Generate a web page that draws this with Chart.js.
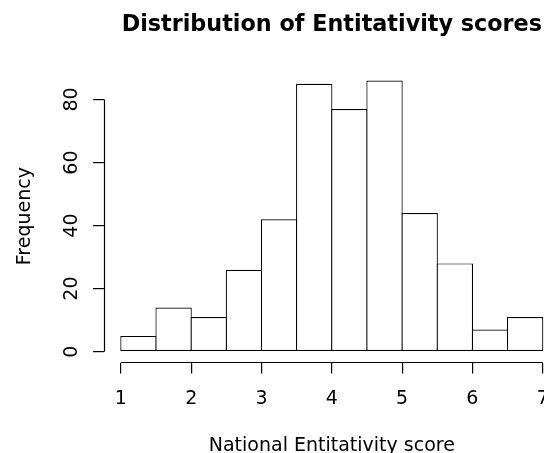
<!DOCTYPE html>
<html>
<head>
<meta charset="utf-8">
<script src="https://cdn.jsdelivr.net/npm/chart.js@4/dist/chart.umd.min.js"></script>
<style>
  html, body { margin: 0; padding: 0; background: #ffffff; overflow: hidden; }
  #wrap { width: 544px; height: 453px; overflow: hidden; }
  canvas { display: block; }
</style>
</head>
<body>
<div id="wrap"><canvas id="hist" width="600" height="453"></canvas></div>
<script>
// Histogram bins (width 0.5) by midpoint, with their counts
const binMidpoints = [1.25, 1.75, 2.25, 2.75, 3.25, 3.75, 4.25, 4.75, 5.25, 5.75, 6.25, 6.75];
const frequencies  = [5, 14, 11, 26, 42, 85, 77, 86, 44, 28, 7, 11];

// Axis tick labels
const xTickValues = [1, 2, 3, 4, 5, 6, 7];
const yTickValues = [0, 20, 40, 60, 80];

const chartTitle = 'Distribution of Entitativity scores';
const xAxisTitle = 'National Entitativity score';
const yAxisTitle = 'Frequency';

const FONT = "'DejaVu Sans', 'Liberation Sans', sans-serif";
const LINE_W = 1.2;

// Draws base-graphics style axis lines spanning only the first to last tick
const axisLinePlugin = {
  id: 'axisLines',
  afterDraw(chart) {
    const { ctx, chartArea, scales } = chart;
    const xs = scales.x, ys = scales.y;
    ctx.save();
    ctx.strokeStyle = '#000000';
    ctx.lineWidth = LINE_W;
    ctx.lineCap = 'butt';
    ctx.beginPath();
    const xLine = Math.round(chartArea.left) + 0.5;
    ctx.moveTo(xLine, ys.getPixelForValue(yTickValues[0]));
    ctx.lineTo(xLine, ys.getPixelForValue(yTickValues[yTickValues.length - 1]));
    const yLine = Math.floor(chartArea.bottom) + 0.5;
    ctx.moveTo(xs.getPixelForValue(xTickValues[0]), yLine);
    ctx.lineTo(xs.getPixelForValue(xTickValues[xTickValues.length - 1]), yLine);
    ctx.stroke();
    ctx.restore();
  }
};

new Chart(document.getElementById('hist'), {
  type: 'bar',
  data: {
    datasets: [{
      data: binMidpoints.map((x, i) => ({ x: x, y: frequencies[i] })),
      backgroundColor: '#ffffff',
      borderColor: '#000000',
      borderWidth: LINE_W,
      borderSkipped: false,
      barPercentage: 1.034,
      categoryPercentage: 1
    }]
  },
  options: {
    responsive: false,
    animation: false,
    events: [],
    layout: { padding: { left: 0, top: 0, bottom: 0, right: 40.4 } },
    plugins: {
      legend: { display: false },
      tooltip: { enabled: false },
      title: {
        display: true,
        text: chartTitle,
        fullSize: false,
        color: '#000000',
        font: { family: FONT, size: 22.3, weight: 'bold', lineHeight: 1.2 },
        padding: { top: 11.5, bottom: 31.5 }
      }
    },
    scales: {
      x: {
        type: 'linear',
        position: 'bottom',
        min: 0.76,
        max: 7.24,
        offset: false,
        bounds: 'data',
        afterBuildTicks: (scale) => { scale.ticks = xTickValues.map(v => ({ value: v })); },
        afterFit: (scale) => { scale.height = 90.5; },
        border: { display: false },
        grid: {
          offset: false,
          drawOnChartArea: false,
          drawTicks: true,
          tickLength: 11,
          color: '#000000',
          lineWidth: LINE_W
        },
        ticks: {
          autoSkip: false,
          maxRotation: 0,
          minRotation: 0,
          padding: 14,
          color: '#000000',
          font: { family: FONT, size: 19 }
        },
        title: {
          display: true,
          text: xAxisTitle,
          color: '#000000',
          font: { family: FONT, size: 19, lineHeight: 0.6 },
          padding: { top: 0, bottom: 1.5 }
        }
      },
      y: {
        type: 'linear',
        position: 'left',
        min: -3.44,
        max: 89.44,
        bounds: 'data',
        afterBuildTicks: (scale) => { scale.ticks = yTickValues.map(v => ({ value: v })); },
        afterFit: (scale) => { scale.width = 104; },
        border: { display: false },
        grid: {
          drawOnChartArea: false,
          drawTicks: true,
          tickLength: 11,
          color: '#000000',
          lineWidth: LINE_W
        },
        ticks: {
          autoSkip: false,
          minRotation: 90,
          maxRotation: 90,
          crossAlign: 'center',
          padding: 9.3,
          color: '#000000',
          font: { family: FONT, size: 19 }
        },
        title: {
          display: true,
          text: yAxisTitle,
          color: '#000000',
          font: { family: FONT, size: 19, lineHeight: 0.6 },
          padding: { top: 19.6, bottom: 0 }
        }
      }
    }
  },
  plugins: [axisLinePlugin]
});
</script>
</body>
</html>
